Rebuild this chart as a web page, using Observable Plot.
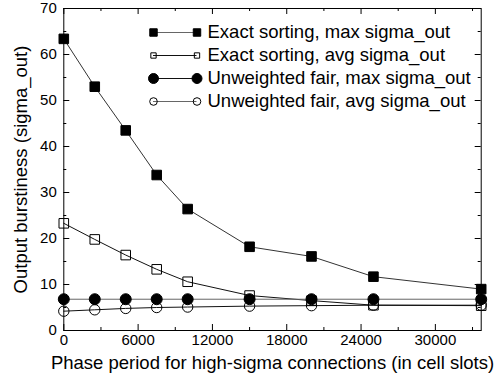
<!DOCTYPE html>
<html>
<head>
<meta charset="utf-8">
<script src="https://cdn.jsdelivr.net/npm/d3@7"></script>
<script src="https://cdn.jsdelivr.net/npm/@observablehq/plot@0.6"></script>
<style>
  html, body { margin: 0; padding: 0; background: white; }
  #wrap { position: relative; width: 498px; height: 382px; }
  #wrap svg { position: absolute; left: 0; top: 0; }
</style>
</head>
<body>
<div id="wrap"></div>
<script>
// ---- data ----
const phase = [0, 2500, 5000, 7500, 10000, 15000, 20000, 25000, 33700];
const exactMax = [63.4, 53.0, 43.5, 33.8, 26.4, 18.2, 16.1, 11.7, 9.0];
const exactAvg = [23.3, 19.8, 16.4, 13.3, 10.6, 7.6, 6.5, 5.5, 5.4];
const unwMax   = [6.8, 6.8, 6.8, 6.8, 6.8, 6.8, 6.8, 6.8, 6.8];
const unwAvg   = [4.2, 4.5, 4.8, 5.0, 5.1, 5.3, 5.4, 5.5, 5.5];
const seriesNames = [
  "Exact sorting, max sigma_out",
  "Exact sorting, avg sigma_out",
  "Unweighted fair, max sigma_out",
  "Unweighted fair, avg sigma_out"
];
const xMajor = [0, 6000, 12000, 18000, 24000, 30000];
const xMinor = [3000, 9000, 15000, 21000, 27000, 33000];
const yMajor = [0, 10, 20, 30, 40, 50, 60, 70];
const yMinor = [5, 15, 25, 35, 45, 55, 65];
const xLabel = "Phase period for high-sigma connections (in cell slots)";
const yLabel = "Output burstiness (sigma_out)";

// ---- styles ----
const FONT = "'Liberation Sans', Arial, Helvetica, sans-serif";
const styles = [
  {symbol: "square", filled: true,  r: 5.4, lr: 4.2, line: "#333", legLine: "#666"},
  {symbol: "square", filled: false, r: 5.4, lr: 3.0, line: "#111", legLine: "#111"},
  {symbol: "circle", filled: true,  r: 5.5, lr: 5.0, line: "#666", legLine: "#111"},
  {symbol: "circle", filled: false, r: 5.2, lr: 3.8, line: "#111", legLine: "#666"}
];
const valueSets = [exactMax, exactAvg, unwMax, unwAvg];
const series = seriesNames.map((name, i) => ({name, i, ...styles[i]}));
const rows = [];
valueSets.forEach((vals, i) => vals.forEach((v, j) => rows.push({series: seriesNames[i], i, x: phase[j], y: v})));

const W = 498, H = 382;
const mL = 63.3, mR = 17.3, mT = 8, mB = 52;
const fw = W - mL - mR, fh = H - mT - mB;

const dataMarks = [];
series.forEach(s => {
  const d = rows.filter(r => r.i === s.i);
  dataMarks.push(Plot.line(d, {x: "x", y: "y", stroke: s.line, strokeWidth: 1}));
});
series.forEach(s => {
  const d = rows.filter(r => r.i === s.i);
  dataMarks.push(Plot.dot(d, {x: "x", y: "y", symbol: s.symbol, r: s.r,
    fill: s.filled ? "black" : "none", stroke: "black", strokeWidth: 1}));
});

const chart = Plot.plot({
  width: W, height: H,
  marginLeft: mL, marginRight: mR, marginTop: mT, marginBottom: mB,
  style: {fontFamily: FONT, fontSize: "15px", background: "white", color: "black"},
  x: {domain: [0, 33700]},
  y: {domain: [0, 70]},
  marks: [
    ...dataMarks,
    Plot.frame({stroke: "black", strokeWidth: 1}),
    // inward ticks bottom / top
    Plot.ruleX(xMajor, {x: d => d, insetTop: fh - 6, stroke: "black"}),
    Plot.ruleX(xMinor, {x: d => d, insetTop: fh - 3, stroke: "black"}),
    Plot.ruleX(xMajor, {x: d => d, insetBottom: fh - 6, stroke: "black"}),
    Plot.ruleX(xMinor, {x: d => d, insetBottom: fh - 3, stroke: "black"}),
    // inward ticks left / right
    Plot.ruleY(yMajor, {y: d => d, insetRight: fw - 6, stroke: "black"}),
    Plot.ruleY(yMinor, {y: d => d, insetRight: fw - 3, stroke: "black"}),
    Plot.ruleY(yMajor, {y: d => d, insetLeft: fw - 6, stroke: "black"}),
    Plot.ruleY(yMinor, {y: d => d, insetLeft: fw - 3, stroke: "black"}),
    Plot.axisX(xMajor, {tickSize: 0, tickPadding: 4, tickFormat: d => String(d), label: null, fontSize: 15}),
    Plot.axisY(yMajor, {tickSize: 0, tickPadding: 7, tickFormat: d => String(d), label: null, fontSize: 15}),
    Plot.text([xLabel], {text: d => d, frameAnchor: "bottom", dy: 33, lineAnchor: "middle", textAnchor: "middle", fontSize: 18.5}),
    Plot.text([yLabel], {text: d => d, frameAnchor: "left", dx: -43, rotate: -90, lineAnchor: "middle", textAnchor: "middle", fontSize: 18.5})
  ]
});

const legend = Plot.plot({
  width: W, height: H, margin: 0,
  style: {fontFamily: FONT, fontSize: "18.5px", background: "transparent", color: "black"},
  x: {domain: [0, 1], range: [153, 196.5], axis: null},
  y: {type: "point", domain: seriesNames, range: [32, 101], padding: 0, axis: null},
  marks: [
    ...series.map(s => Plot.ruleY([s], {y: "name", x1: 0, x2: 1, stroke: s.legLine, strokeWidth: 1})),
    ...series.map(s => Plot.dot([{...s, x: 0}, {...s, x: 1}], {x: "x", y: "name", symbol: s.symbol, r: s.lr,
      fill: s.filled ? "black" : "none", stroke: "black", strokeWidth: 1})),
    Plot.text(series, {x: () => 1, y: "name", text: "name", dx: 10.5, textAnchor: "start", fontSize: 18.5})
  ]
});

const wrap = document.getElementById("wrap");
wrap.appendChild(chart);
wrap.appendChild(legend);
</script>
</body>
</html>
